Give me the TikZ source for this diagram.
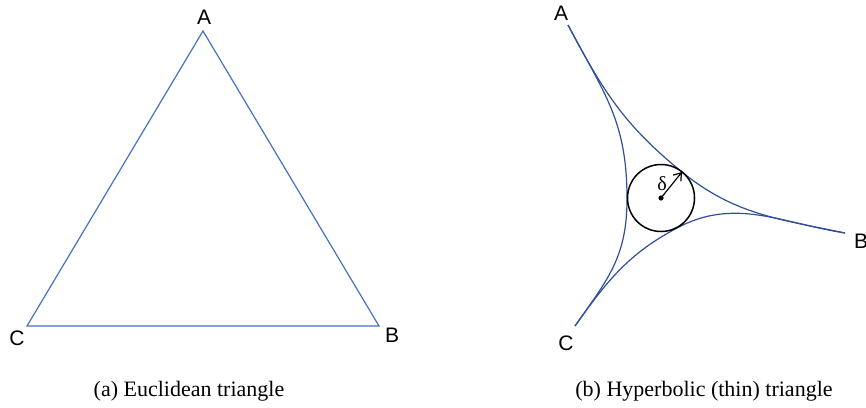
\documentclass[tikz,border=0pt]{standalone}
\usepackage{fontspec}
\setmainfont{Liberation Serif}
\setsansfont{Liberation Sans}
\usetikzlibrary{arrows.meta}
\definecolor{euclidblue}{HTML}{4472C4}
\definecolor{hyperblue}{HTML}{2F4F9A}

\begin{document}
\begin{tikzpicture}[
    x=0.5pt, y=-0.5pt,
    % ── Text styles ──────────────────────────────────────────────────────
    vlabel/.style={
        font=\sffamily\fontsize{10.5}{12}\selectfont, inner sep=0pt
    },
    caption/.style={
        font=\fontsize{11}{13}\selectfont, inner sep=0pt
    },
    % ── Line styles ──────────────────────────────────────────────────────
    euclid/.style={draw=euclidblue, line width=0.6pt},
    geodesic/.style={draw=hyperblue, line width=0.6pt},
    ball/.style={draw=black, line width=0.75pt},
    radiusarrow/.style={
        -{Straight Barb[length=3.5pt, width=5pt]}, line width=0.6pt
    }
]
\useasboundingbox (0,0) rectangle (866,407);

% ═══════════════════════════════════════════════════════════════════════════
% (a) Euclidean triangle
% ═══════════════════════════════════════════════════════════════════════════
\coordinate (ea) at (203,31);
\coordinate (eb) at (379,326);
\coordinate (ec) at (27,326);

\draw[euclid] (ea) -- (eb) -- (ec) -- cycle;

\node[vlabel] (eA) at (204,17) {A};
\node[vlabel] (eB) at (392,335) {B};
\node[vlabel] (eC) at (17,338) {C};

\node[caption] (capa) at (189,391) {(a) Euclidean triangle};

% ═══════════════════════════════════════════════════════════════════════════
% (b) Hyperbolic (thin) triangle
% ═══════════════════════════════════════════════════════════════════════════
\coordinate (ha) at (568,25);
\coordinate (hb) at (845,233);
\coordinate (hc) at (575,326);

% Centre of the inscribed circle and its touching points
\coordinate (ho) at (661,198);
\coordinate (tab) at (682,172);
\coordinate (tac) at (627,199);
\coordinate (tcb) at (677,228);

% Sides bent towards the centre
\draw[geodesic] (ha) .. controls +(37,70) and +(0,-78) .. (tac)
                     .. controls +(0,58) and +(33,-47) .. (hc);
\draw[geodesic] (ha) .. controls +(35,66) and +(-58,-47) .. (tab)
                     .. controls +(53,43) and +(-66,-14) .. (hb);
\draw[geodesic] (hc) .. controls +(32,-45) and +(-49,26) .. (tcb)
                     .. controls +(58,-31) and +(-64,-10) .. (hb);

% Circle of radius delta
\draw[ball] (ho) circle[radius=33.5];
\fill (ho) circle[radius=2.6];
\draw[radiusarrow] (ho) -- (tab);
\node[font=\fontsize{10}{12}\selectfont, inner sep=0pt] (delta)
    at (662,184) {δ};

\node[vlabel] (hA) at (561,13) {A};
\node[vlabel] (hB) at (861,241) {B};
\node[vlabel] (hC) at (566,343) {C};

\node[caption] (capb) at (704,391) {(b) Hyperbolic (thin) triangle};

\end{tikzpicture}
\end{document}
